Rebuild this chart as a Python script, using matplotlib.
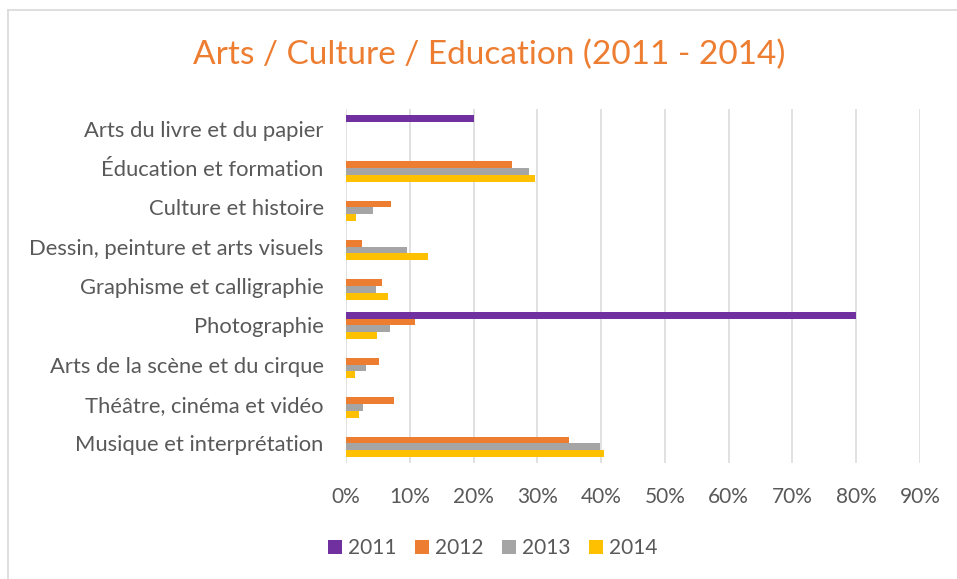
import numpy as np
import matplotlib
matplotlib.use('Agg')
import matplotlib.pyplot as plt
from matplotlib.lines import Line2D
from matplotlib.ticker import PercentFormatter

plt.rcParams['font.family'] = ['Lato', 'DejaVu Sans']

categories = ['Arts du livre et du papier', 'Éducation et formation', 'Culture et histoire',
              'Dessin, peinture et arts visuels', 'Graphisme et calligraphie', 'Photographie',
              'Arts de la scène et du cirque', 'Théâtre, cinéma et vidéo', 'Musique et interprétation']
years = ['2011', '2012', '2013', '2014']

v2011 = [20, 0, 0, 0, 0, 80, 0, 0, 0]
v2012 = [0, 26.0, 7.0, 2.5, 5.7, 10.8, 5.1, 7.6, 35.0]
v2013 = [0, 28.7, 4.2, 9.5, 4.7, 6.9, 3.1, 2.6, 39.8]
v2014 = [0, 29.6, 1.6, 12.8, 6.6, 4.8, 1.4, 2.0, 40.5]

colors = ['#7030A0', '#ED7D31', '#A5A5A5', '#FFC000']
grey_txt = '#595959'

W, H = 957, 579
fig = plt.figure(figsize=(W / 100, H / 100), dpi=100)
ax = fig.add_axes([346 / W, 1 - 463 / H, (920 - 346) / W, (463 - 109) / H])

y = np.arange(len(categories))
h = 0.172
series = [v2011, v2012, v2013, v2014]
for k, vals in enumerate(series):
    ax.barh(y + (k - 1.5) * h, vals, height=h, color=colors[k], label=years[k], zorder=3)

ax.set_xlim(0, 90)
ax.set_ylim(len(categories) - 0.5, -0.5)
ax.set_xticks(np.arange(0, 91, 10))
ax.xaxis.set_major_formatter(PercentFormatter(decimals=0))
ax.set_yticks(y)
ax.set_yticklabels(categories, fontsize=15.8)
ax.grid(axis='x', color='#D9D9D9', linewidth=1.1, zorder=0)
for s in ax.spines.values():
    s.set_visible(False)
ax.tick_params(axis='both', length=0, colors=grey_txt)
ax.tick_params(axis='x', pad=17, labelsize=15)
ax.tick_params(axis='y', pad=16)

fig.text(489 / W, 1 - 55 / H, 'Arts / Culture / Education (2011 - 2014)', color='#ED7D31',
         fontsize=24, ha='center', va='center')

leg = ax.legend(loc='center', bbox_to_anchor=(493 / W, 1 - 548 / H), bbox_transform=fig.transFigure,
                ncol=4, frameon=False, fontsize=15, handlelength=0.65, handleheight=0.65,
                handletextpad=0.3, columnspacing=0.9)
for t in leg.get_texts():
    t.set_color(grey_txt)

# chart frame
fig.add_artist(Line2D([8 / W, 8 / W], [0, 1 - 10 / H], color='#D9D9D9', lw=1.2, transform=fig.transFigure))
fig.add_artist(Line2D([8 / W, 1], [1 - 10 / H, 1 - 10 / H], color='#D9D9D9', lw=1.2, transform=fig.transFigure))

fig.savefig('out.png', dpi=100)
